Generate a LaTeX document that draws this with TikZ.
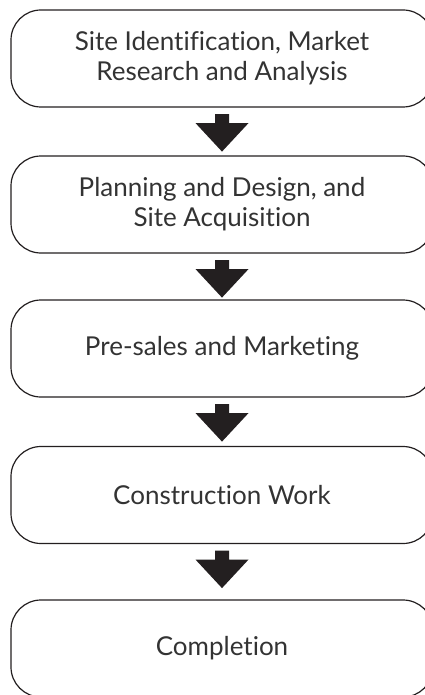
\documentclass[tikz,border=0pt]{standalone}
\usepackage{fontspec}
\setmainfont{Lato}[Ligatures=NoCommon]
\usetikzlibrary{calc}
\definecolor{inkc}{HTML}{231F20}
\definecolor{textc}{HTML}{333333}
% block arrow hanging below a stage box
\newcommand\stagearrow[1]{%
  \fill[inkc] ($(#1.south)+(-7,6.5)$) -- ++(14,0) -- ++(0,9) -- ++(19.5,0)
    -- ($(#1.south)+(0,44)$) -- ++(-26.5,-28.5) -- ++(19.5,0) -- cycle;}
\begin{document}
\begin{tikzpicture}[x=1pt,y=-1pt,
  stage/.style={draw=inkc, line width=1.2pt, rounded corners=30pt,
    minimum width=422pt, minimum height=97pt, inner sep=0pt,
    align=center, text=textc, font=\fontsize{26}{30}\selectfont}]
\useasboundingbox (0,0) rectangle (425,695);
\node[stage] (s1) at (222,58.5) {Site Identification, Market\\Research and Analysis};
\node[stage] (s2) at (222,204.5) {Planning and Design, and\\Site Acquisition};
\node[stage] (s3) at (222,348.5) {Pre-sales and Marketing};
\node[stage] (s4) at (222,495) {Construction Work};
\node[stage] (s5) at (222,648.5) {Completion};
\stagearrow{s1}
\stagearrow{s2}
\stagearrow{s3}
\stagearrow{s4}
\end{tikzpicture}
\end{document}
